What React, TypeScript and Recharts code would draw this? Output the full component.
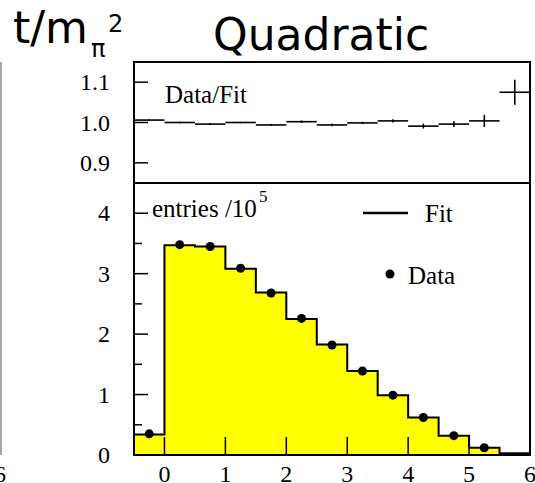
import React from 'react';
import {
  ComposedChart,
  Area,
  Scatter,
  ErrorBar,
  XAxis,
  YAxis,
} from 'recharts';

// t/m_pi^2 bins, width 0.5, from -0.5 to 6
const binEdges = [-0.5, 0, 0.5, 1, 1.5, 2, 2.5, 3, 3.5, 4, 4.5, 5, 5.5, 6];
const binCenters = [-0.25, 0.25, 0.75, 1.25, 1.75, 2.25, 2.75, 3.25, 3.75, 4.25, 4.75, 5.25, 5.75];

// entries / 1e5
const fitValues = [0.34, 3.47, 3.45, 3.08, 2.69, 2.25, 1.83, 1.39, 0.99, 0.62, 0.32, 0.12, 0.03];
const dataValues = [0.35, 3.48, 3.45, 3.09, 2.68, 2.26, 1.82, 1.39, 0.99, 0.62, 0.32, 0.12];

// data / fit ratio per bin
const ratioValues = [1.006, 1.0, 0.996, 1.0, 0.994, 1.002, 0.994, 0.999, 1.004, 0.991, 0.996, 1.004, 1.075];
const ratioErrors = [0.002, 0.002, 0.002, 0.002, 0.002, 0.003, 0.003, 0.003, 0.004, 0.006, 0.007, 0.015, 0.031];

const xTicks = [0, 1, 2, 3, 4, 5, 6];
const ratioTicks = [0.9, 1.0, 1.1];
const entryTicks = [0, 0.5, 1, 1.5, 2, 2.5, 3, 3.5, 4];

const histData = binEdges.map((x, i) => ({ x, fit: fitValues[Math.min(i, fitValues.length - 1)] }));
const pointData = dataValues.map((y, i) => ({ x: binCenters[i], y }));
const ratioData = ratioValues.map((y, i) => ({ x: binCenters[i], y, ex: 0.25, ey: ratioErrors[i] }));

const SERIF = '"Liberation Serif", "Times New Roman", serif';
const SANS = '"DejaVu Sans", sans-serif';

const W = 535;
const H = 483;
const LEFT = 134;
const RIGHT = 530;
const TOP = 62;
const MID = 183;
const BOTTOM = 455;

const RatioTick = (props: any) => {
  const { x, y, payload } = props;
  return (
    <g>
      <line x1={x} y1={y} x2={x + 14} y2={y} stroke="#000" strokeWidth={1.5} />
      <text x={x - 24} y={y + 8} textAnchor="end" fontFamily={SERIF} fontSize={24} fill="#000">
        {payload.value.toFixed(1)}
      </text>
    </g>
  );
};

const EntryTick = (props: any) => {
  const { x, y, payload } = props;
  const major = Number.isInteger(payload.value);
  return (
    <g>
      <line x1={x} y1={y} x2={x + (major ? 14 : 8)} y2={y} stroke="#000" strokeWidth={1.5} />
      {major && (
        <text x={x - 24} y={y + 8} textAnchor="end" fontFamily={SERIF} fontSize={24} fill="#000">
          {payload.value}
        </text>
      )}
    </g>
  );
};

const XTick = (props: any) => {
  const { x, y, payload } = props;
  return (
    <g>
      {payload.value < 6 && <line x1={x} y1={y} x2={x} y2={y - 18} stroke="#000" strokeWidth={1.5} />}
      <text x={x} y={y + 27} textAnchor="middle" fontFamily={SERIF} fontSize={24} fill="#000">
        {payload.value}
      </text>
    </g>
  );
};

export default function App() {
  return (
    <div style={{ position: 'absolute', left: 0, top: 0, width: W, height: H, background: '#fff', overflow: 'hidden' }}>
      {/* ratio panel */}
      <div style={{ position: 'absolute', left: 0, top: 0 }}>
        <ComposedChart width={W} height={190} margin={{ top: TOP, right: W - RIGHT, bottom: 7, left: 0 }}>
          <XAxis type="number" dataKey="x" domain={[-0.5, 6]} allowDataOverflow hide />
          <YAxis
            type="number"
            domain={[0.85, 1.15]}
            ticks={ratioTicks}
            interval={0}
            width={LEFT}
            axisLine={false}
            tickSize={0}
            tickMargin={0}
            tickLine={false}
            tick={<RatioTick />}
            allowDataOverflow
          />
          <Scatter data={ratioData} dataKey="y" shape={() => <g />} isAnimationActive={false}>
            <ErrorBar dataKey="ex" direction="x" width={0} stroke="#000" strokeWidth={1.6} isAnimationActive={false} />
            <ErrorBar dataKey="ey" direction="y" width={0} stroke="#000" strokeWidth={1.6} isAnimationActive={false} />
          </Scatter>
        </ComposedChart>
      </div>

      {/* entries panel */}
      <div style={{ position: 'absolute', left: 0, top: MID }}>
        <ComposedChart width={W} height={H - MID} data={histData} margin={{ top: 0, right: W - RIGHT, bottom: 0, left: 0 }}>
          <XAxis
            type="number"
            dataKey="x"
            domain={[-0.5, 6]}
            ticks={xTicks}
            interval={0}
            height={H - BOTTOM}
            axisLine={false}
            tickSize={0}
            tickMargin={0}
            tickLine={false}
            tick={<XTick />}
            allowDataOverflow
          />
          <YAxis
            type="number"
            domain={[0, 4.5]}
            ticks={entryTicks}
            interval={0}
            width={LEFT}
            axisLine={false}
            tickSize={0}
            tickMargin={0}
            tickLine={false}
            tick={<EntryTick />}
            allowDataOverflow
          />
          <Area
            type="stepAfter"
            dataKey="fit"
            stroke="#000"
            strokeWidth={2}
            fill="#ffff00"
            fillOpacity={1}
            baseValue={0}
            dot={false}
            activeDot={false}
            isAnimationActive={false}
          />
          <Scatter data={pointData} dataKey="y" fill="#000" shape="circle" isAnimationActive={false} />
        </ComposedChart>
      </div>

      {/* frames, titles and legend */}
      <svg width={W} height={H} style={{ position: 'absolute', left: 0, top: 0, pointerEvents: 'none' }}>
        <line x1={1} y1={TOP} x2={1} y2={BOTTOM} stroke="#888" strokeWidth={1.5} />
        <text x={0} y={482} textAnchor="middle" fontFamily={SERIF} fontSize={24} fill="#000">6</text>

        <rect x={LEFT} y={TOP} width={RIGHT - LEFT} height={BOTTOM - TOP} fill="none" stroke="#000" strokeWidth={2} />
        <line x1={LEFT} y1={MID} x2={RIGHT} y2={MID} stroke="#000" strokeWidth={2} />

        <text x={13} y={43} fontFamily={SANS} fontSize={44} fill="#000">t/m</text>
        <text x={91} y={57} fontFamily={SANS} fontSize={24} fill="#000">π</text>
        <text x={108} y={32} fontFamily={SANS} fontSize={24} fill="#000">2</text>
        <text x={213} y={50} fontFamily={SANS} fontSize={44} fill="#000">Quadratic</text>

        <text x={165} y={103} fontFamily={SERIF} fontSize={25} fill="#000">Data/Fit</text>
        <text x={152} y={217} fontFamily={SERIF} fontSize={25} fill="#000">entries /10</text>
        <text x={259} y={202} fontFamily={SERIF} fontSize={17} fill="#000">5</text>

        <line x1={363} y1={213} x2={408} y2={213} stroke="#000" strokeWidth={2.5} />
        <text x={425} y={222} fontFamily={SERIF} fontSize={25} fill="#000">Fit</text>
        <circle cx={390} cy={274} r={4.5} fill="#000" />
        <text x={408} y={284} fontFamily={SERIF} fontSize={25} fill="#000">Data</text>
      </svg>
    </div>
  );
}
